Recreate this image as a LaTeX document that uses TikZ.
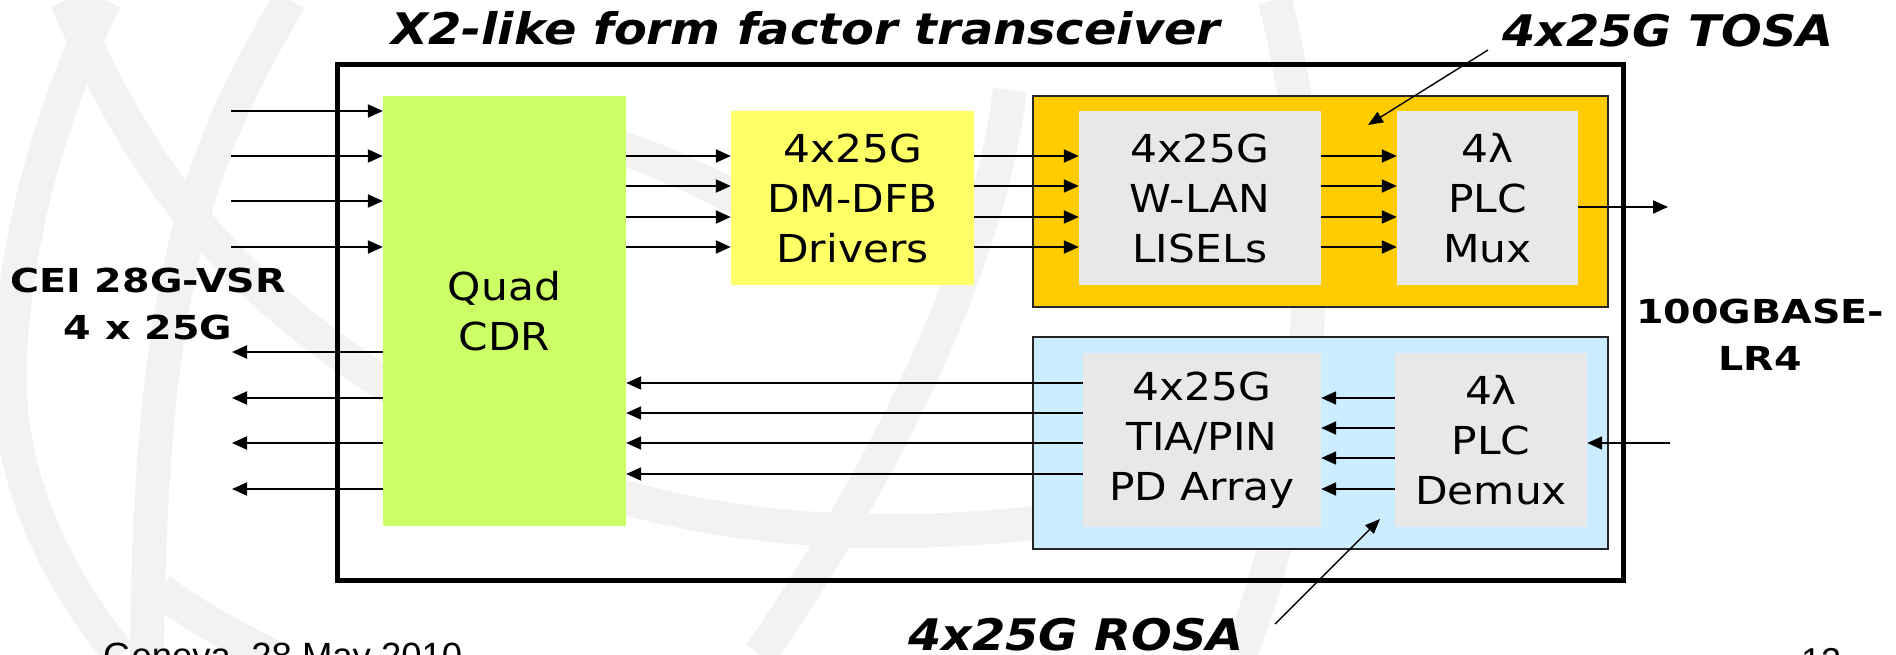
\documentclass[tikz,border=0pt]{standalone}
\usepackage{fontspec}
\setmainfont{DejaVu Sans}[FakeStretch=1.1]
\newfontfamily\widebold{DejaVu Sans Bold}[FakeStretch=1.2]
\newfontfamily\footfont{Liberation Sans}
\usetikzlibrary{arrows.meta}
\definecolor{cdrgreen}{HTML}{CCFF66}
\definecolor{dfbyellow}{HTML}{FFFF66}
\definecolor{tosaorange}{HTML}{FFCC00}
\definecolor{rosablue}{HTML}{CCECFF}
\definecolor{innergrey}{HTML}{E8E8E8}
\definecolor{wmgrey}{HTML}{F3F2F0}
\tikzset{
  blk/.style={inner sep=0pt, align=center, font=\fontsize{38.5}{50}\selectfont},
  osa/.style={draw=black!85, line width=1.5pt},
  arr/.style={-{Triangle[length=15pt,width=13pt]}, line width=2pt},
  ptr/.style={-{Triangle[length=15pt,width=12pt]}, line width=1.4pt},
  bigtitle/.style={inner sep=0pt, font=\fontsize{43.5}{50}\selectfont\bfseries\itshape},
  sidelbl/.style={inner sep=0pt, align=center, font=\widebold\fontsize{33}{47}\selectfont},
  wm/.style={draw=wmgrey, line width=34pt, line cap=butt},
}
\begin{document}
\begin{tikzpicture}[x=1pt,y=-1pt]
\useasboundingbox (0,0) rectangle (1896,655);
% faint background watermark
\draw[wm] (67,0) .. controls (150,200) and (260,330) .. (520,460) .. controls (700,540) and (900,540) .. (1060,520);
\draw[wm] (290,0) .. controls (200,150) and (150,280) .. (147,655);
\draw[wm] (105,0) .. controls (40,130) and (0,300) .. (12,420) .. controls (25,520) and (75,600) .. (120,655);
\draw[wm] (160,590) .. controls (200,620) and (240,640) .. (270,655);
\draw[wm] (1010,90) .. controls (990,250) and (900,450) .. (760,655);
\draw[wm] (590,140) .. controls (640,150) and (690,175) .. (740,200);
\draw[wm] (1275,0) .. controls (1320,180) and (1330,420) .. (1240,655);
% outer transceiver box
\node[draw=black, line width=5pt, minimum width=1286, minimum height=515, inner sep=0pt] (xcvr) at (980,322.5) {};
% TOSA and ROSA
\node[osa, fill=tosaorange, minimum width=575, minimum height=211, inner sep=0pt] (tosa) at (1320.5,201.5) {};
\node[osa, fill=rosablue, minimum width=575, minimum height=212, inner sep=0pt] (rosa) at (1320.5,443) {};
% blocks
\node[blk, fill=cdrgreen, minimum width=243, minimum height=430] (cdr) at (504.5,311) {Quad\\CDR};
\node[blk, fill=dfbyellow, minimum width=243, minimum height=174] (dfb) at (852.5,198) {4x25G\\DM-DFB\\Drivers};
\node[blk, fill=innergrey, minimum width=242, minimum height=174] (lisel) at (1200,198) {4x25G\\W-LAN\\LISELs};
\node[blk, fill=innergrey, minimum width=181, minimum height=174] (mux) at (1487.5,198) {4λ\\PLC\\Mux};
\node[blk, fill=innergrey, minimum width=238, minimum height=174] (tia) at (1202,440) {4x25G\\TIA/PIN\\PD Array};
\node[blk, fill=innergrey, minimum width=192, minimum height=174] (demux) at (1491,440) {4λ\\PLC\\Demux};
% labels
\node[bigtitle, anchor=base west] (title) at (391,45) {X2-like form factor transceiver};
\node[bigtitle, anchor=base west] (tosalbl) at (1502,47) {4x25G TOSA};
\node[bigtitle, anchor=base west] (rosalbl) at (908,650) {4x25G ROSA};
\node[sidelbl, anchor=base] (cei) at (148,339) {CEI 28G-VSR\\4 x 25G};
\node[sidelbl, anchor=base] (lr4) at (1760,370) {100GBASE-\\LR4};
\node[inner sep=0pt, anchor=base west, font=\footfont\fontsize{36.5}{40}\selectfont] (foot) at (103,668) {Geneva, 28 May 2010};
\node[inner sep=0pt, anchor=base west, font=\footfont\fontsize{36}{40}\selectfont] (page) at (1801,673) {12};
% free ends
\foreach \y [count=\i] in {111,156,201,247} {
  \coordinate (in\i) at (231,\y);
  \draw[arr] (in\i) -- (cdr.west |- in\i);
}
\foreach \y [count=\i] in {352,398,443,489} {
  \coordinate (out\i) at (232,\y);
  \draw[arr] (cdr.west |- out\i) -- (out\i);
}
\foreach \y in {156,186,217,247} {
  \draw[arr] (cdr.east |- {0,\y}) -- (dfb.west |- {0,\y});
  \draw[arr] (dfb.east |- {0,\y}) -- (lisel.west |- {0,\y});
  \draw[arr] (lisel.east |- {0,\y}) -- (mux.west |- {0,\y});
}
\coordinate (fibout) at (1668,207);
\draw[arr] (mux.east |- fibout) -- (fibout);
\coordinate (fibin) at (1670,443);
\draw[arr] (fibin) -- (demux.east |- fibin);
\foreach \y in {398,428,458,489} {
  \draw[arr] (demux.west |- {0,\y}) -- (tia.east |- {0,\y});
}
\foreach \y in {383,413,443,474} {
  \draw[arr] (tia.west |- {0,\y}) -- (cdr.east |- {0,\y});
}
% pointers
\coordinate (tosatip) at (1368,125);
\coordinate (rosatip) at (1380,519);
\draw[ptr] (1488,50) -- (tosatip);
\draw[ptr] (1275,624) -- (rosatip);
\end{tikzpicture}
\end{document}
